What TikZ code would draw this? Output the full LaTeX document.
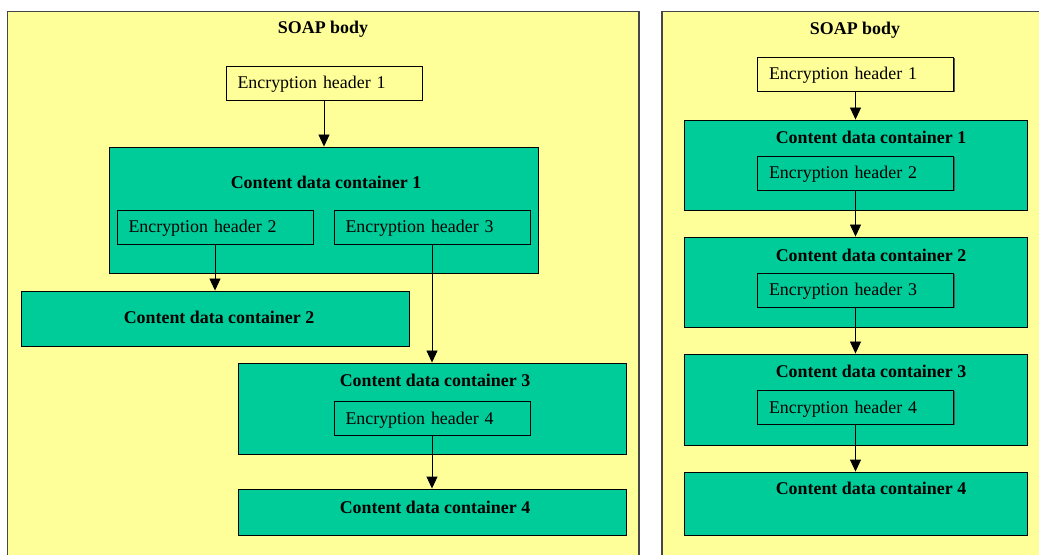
\documentclass[tikz,border=0pt]{standalone}
\usepackage{fontspec}
\setmainfont{Liberation Serif}
\usetikzlibrary{arrows.meta,shadows}
\definecolor{soapyellow}{HTML}{FFFF99}
\definecolor{cdcgreen}{HTML}{00CC99}
\begin{document}
\begin{tikzpicture}[x=1bp,y=-1bp,
  every node/.style={font=\fontsize{17.9bp}{21bp}\selectfont},
  boxshadow/.style={drop shadow={shadow xshift=1.3bp,shadow yshift=-1.3bp,fill=black!65,opacity=1}},
  panel/.style={draw=black!72,line width=1.6bp,fill=soapyellow},
  cdcbox/.style={draw=black,line width=0.9bp,fill=cdcgreen,inner sep=0pt,boxshadow},
  ehbox/.style={draw=black,line width=0.9bp,fill=#1,minimum width=196bp,minimum height=34bp,
    text width=173bp,align=left,inner xsep=11.5bp,inner ysep=0pt,text height=12bp,text depth=0pt,boxshadow},
  ehbox/.default=cdcgreen,
  ctitle/.style={font=\fontsize{17.9bp}{21bp}\selectfont\bfseries,inner sep=0pt},
  conn/.style={-{Triangle[width=11bp,length=12bp]},line width=0.9bp}]
\useasboundingbox (0,0) rectangle (1039,555);
\clip (0,0) rectangle (1039,555);

% two SOAP body panels (open at the bottom / right)
\draw[panel] (7.5,11.5) rectangle (639,575);
\draw[panel] (662,11.5) rectangle (1060,575);
\node[ctitle] (lsoap) at (323,29) {SOAP body};
\node[ctitle] (rsoap) at (855,30) {SOAP body};

% ---- left: tree of containers ----
\node[ehbox=soapyellow] (leh1) at (324,83) {Encryption header 1};
\node[cdcbox,minimum width=429bp,minimum height=126bp] (lc1) at (323.5,210) {};
\node[ctitle] (lc1t) at (326,182) {Content data container 1};
\node[ehbox] (leh2) at (215,227) {Encryption header 2};
\node[ehbox] (leh3) at (432,227) {Encryption header 3};
\node[cdcbox,minimum width=388bp,minimum height=55bp] (lc2) at (215,318.5) {};
\node[ctitle] (lc2t) at (219,317) {Content data container 2};
\node[cdcbox,minimum width=388bp,minimum height=91bp] (lc3) at (432,408.5) {};
\node[ctitle] (lc3t) at (435,380) {Content data container 3};
\node[ehbox] (leh4) at (432,418) {Encryption header 4};
\node[cdcbox,minimum width=388bp,minimum height=46bp] (lc4) at (432,512) {};
\node[ctitle] (lc4t) at (435,507) {Content data container 4};

\draw[conn] (leh1.south) -- (leh1.south |- lc1.north);
\draw[conn] (leh2.south) -- (leh2.south |- lc2.north);
\draw[conn] (leh3.south) -- (leh3.south |- lc3.north);
\draw[conn] (leh4.south) -- (leh4.south |- lc4.north);

% ---- right: chain of containers ----
\node[ehbox=soapyellow] (reh1) at (855.5,74) {Encryption header 1};
\node[cdcbox,minimum width=343bp,minimum height=90bp] (rc1) at (855.5,165) {};
\node[ctitle] (rc1t) at (871,137) {Content data container 1};
\node[ehbox] (reh2) at (855.5,173) {Encryption header 2};
\node[cdcbox,minimum width=343bp,minimum height=90bp] (rc2) at (855.5,282) {};
\node[ctitle] (rc2t) at (871,255) {Content data container 2};
\node[ehbox] (reh3) at (855.5,290) {Encryption header 3};
\node[cdcbox,minimum width=343bp,minimum height=91bp] (rc3) at (855.5,399.5) {};
\node[ctitle] (rc3t) at (871,371) {Content data container 3};
\node[ehbox] (reh4) at (855.5,407) {Encryption header 4};
\node[cdcbox,minimum width=343bp,minimum height=63bp] (rc4) at (855.5,503.5) {};
\node[ctitle] (rc4t) at (871,488) {Content data container 4};

\draw[conn] (reh1.south) -- (reh1.south |- rc1.north);
\draw[conn] (reh2.south) -- (reh2.south |- rc2.north);
\draw[conn] (reh3.south) -- (reh3.south |- rc3.north);
\draw[conn] (reh4.south) -- (reh4.south |- rc4.north);
\end{tikzpicture}
\end{document}
